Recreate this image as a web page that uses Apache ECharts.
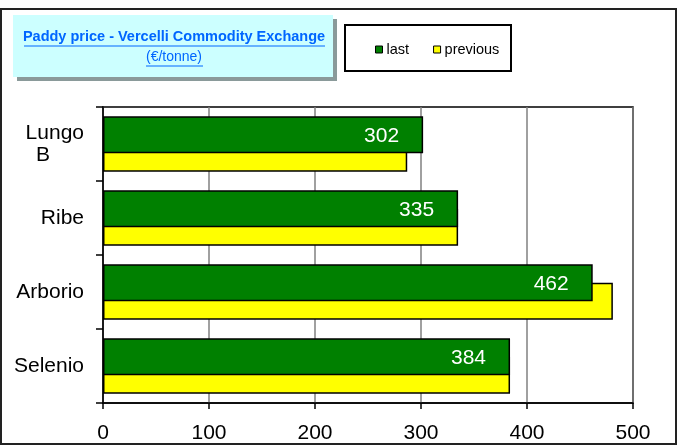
<!DOCTYPE html>
<html>
<head>
<meta charset="utf-8">
<script src="https://cdn.jsdelivr.net/npm/echarts@6/dist/echarts.min.js"></script>
<style>html,body{margin:0;padding:0;background:#fff;}#c{width:678px;height:445px;}</style>
</head>
<body>
<div id="c"></div>
<script>
const categories = ['Lungo B', 'Ribe', 'Arborio', 'Selenio'];
const lastValues = [302, 335, 462, 384];
const previousValues = [287, 335, 481, 384];
const xTicks = [0, 100, 200, 300, 400, 500];
const titleText = 'Paddy price - Vercelli Commodity Exchange';
const subtitleText = '(€/tonne)';

const chart = echarts.init(document.getElementById('c'), null, {renderer: 'canvas'});
const font = 'Arial, "Liberation Sans", sans-serif';
const option = {
  animation: false,
  backgroundColor: '#ffffff',
  grid: {left: 103, top: 107, right: 45, bottom: 42, show: true, borderColor: '#000', borderWidth: 1.5, backgroundColor: 'transparent'},
  legend: {
    left: 370, top: 37, itemWidth: 7, itemHeight: 7, itemGap: 24, icon: 'rect',
    textStyle: {fontFamily: font, fontSize: 14.5, color: '#000', padding: [0, 0, 0, -1]},
    data: [
      {name: 'last', itemStyle: {color: '#008000', borderColor: '#000', borderWidth: 1}},
      {name: 'previous', itemStyle: {color: '#ffff00', borderColor: '#000', borderWidth: 1}}
    ]
  },
  xAxis: {
    type: 'value', min: xTicks[0], max: xTicks[xTicks.length - 1], interval: 100,
    axisLine: {show: true, lineStyle: {color: '#000', width: 1.5}},
    axisTick: {show: true, length: 6, lineStyle: {color: '#000', width: 1.5}},
    axisLabel: {fontFamily: font, fontSize: 21, color: '#000', margin: 20},
    splitLine: {show: true, lineStyle: {color: '#808080', width: 1.5}}
  },
  yAxis: {
    type: 'category', inverse: true, data: categories,
    axisLine: {show: true, lineStyle: {color: '#000', width: 1.5}},
    axisTick: {show: true, length: 7, lineStyle: {color: '#000', width: 1.5}},
    axisLabel: {
      fontFamily: font, fontSize: 21, color: '#000', margin: 19, lineHeight: 22,
      formatter: function (v) {
        if (v === 'Lungo B') return 'Lungo\n{b|B}';
        return v;
      },
      rich: {b: {fontFamily: font, fontSize: 21, color: '#000', padding: [0, 34, 0, 0], lineHeight: 22}}
    }
  },
  series: [
    {
      name: 'last', type: 'bar', data: lastValues, barWidth: 37, barGap: '-50%', z: 3,
      itemStyle: {color: '#008000', borderColor: '#000', borderWidth: 1.5},
      label: {show: true, position: 'insideRight', distance: 24, color: '#fff', fontFamily: font, fontSize: 21, offset: [0, 1]}
    },
    {
      name: 'previous', type: 'bar', data: previousValues, barWidth: 37, barGap: '-50%', z: 2,
      itemStyle: {color: '#ffff00', borderColor: '#000', borderWidth: 1.5}
    }
  ],
  graphic: [
    {type: 'rect', shape: {x: 1, y: 9, width: 675, height: 435}, style: {fill: 'none', stroke: '#222', lineWidth: 2}, z: 100},
    {type: 'rect', shape: {x: 17, y: 19, width: 320, height: 62}, style: {fill: '#8a9a9a'}, z: 100},
    {type: 'rect', shape: {x: 13, y: 15, width: 320, height: 62}, style: {fill: '#ccffff'}, z: 101},
    {type: 'text', x: 174, y: 37, style: {text: titleText, fill: '#0066ff', font: 'bold 14.5px ' + font, align: 'center', verticalAlign: 'middle'}, z: 102},
    {type: 'line', shape: {x1: 24, y1: 46, x2: 325, y2: 46}, style: {stroke: '#0066ff', lineWidth: 1}, z: 102},
    {type: 'text', x: 174, y: 57, style: {text: subtitleText, fill: '#0066ff', font: '14px ' + font, align: 'center', verticalAlign: 'middle'}, z: 102},
    {type: 'line', shape: {x1: 146, y1: 66, x2: 203, y2: 66}, style: {stroke: '#0066ff', lineWidth: 1}, z: 102},
    {type: 'rect', shape: {x: 345, y: 25, width: 166, height: 46}, style: {fill: 'none', stroke: '#000', lineWidth: 2}, z: 100}
  ]
};
chart.setOption(option);
</script>
</body>
</html>
